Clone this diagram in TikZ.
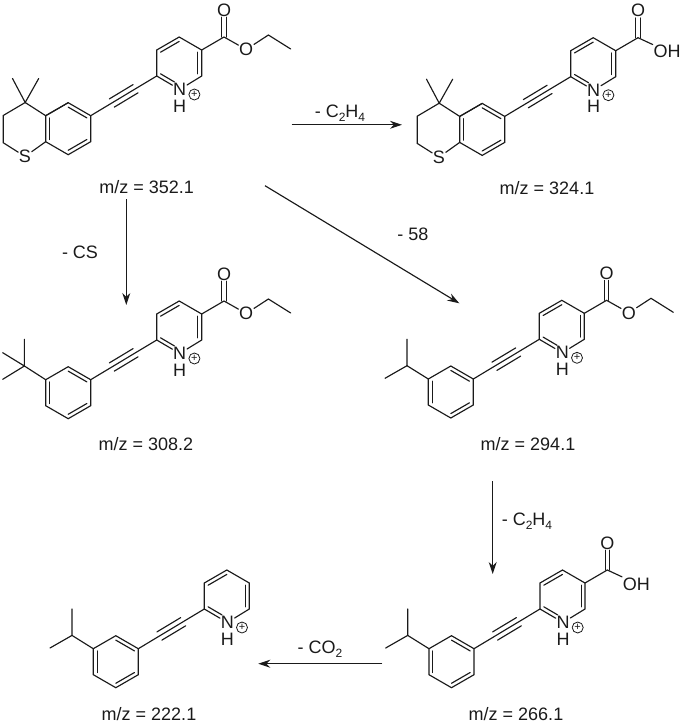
\documentclass[tikz,border=0pt]{standalone}
\usepackage{fontspec}
\setmainfont{Liberation Sans}
\usetikzlibrary{calc,arrows.meta}
\definecolor{ink}{HTML}{1A1A1A}
\tikzset{
  bond/.style={draw=ink,line width=1.15pt,line cap=round},
  rxn/.style={draw=ink,line width=1.15pt,-{Stealth[length=12pt,width=8pt]}},
  atom/.style={text=ink,font=\fontsize{18}{18}\selectfont,inner sep=0.8pt,outer sep=0pt},
  lab/.style={text=ink,font=\fontsize{18}{18}\selectfont,inner sep=0pt},
  charge/.style={draw=ink,line width=0.8pt,circle,inner sep=0pt,minimum size=11pt,text=ink,font=\fontsize{11}{11}\selectfont},
}
\newcommand{\subs}[1]{\raisebox{-0.22em}{\fontsize{12}{12}\selectfont #1}}
\newcommand{\dbond}[3]{\draw[bond] ($(#1)!.17!(#3)$) -- ($(#2)!.17!(#3)$);}
\newcommand{\pyrcore}{%
  \coordinate (C2) at (0,0);
  \coordinate (C3) at (0,-26);
  \coordinate (C4) at (22.5,-39);
  \coordinate (C5) at (45,-26);
  \coordinate (C6) at (45,0);
  \coordinate (pc) at (22.5,-13);
  \node[atom] (N) at (23,13.5) {N};
  \node[atom] (H) at (23,30) {H};
  \node[charge] (plus) at (37.7,18.5) {+};
  \draw[bond] (C2) -- (C3) -- (C4) -- (C5) -- (C6) -- (N);
  \draw[bond] (C2) -- (N);
  \dbond{C3}{C4}{pc}
  \dbond{C5}{C6}{pc}
  \draw[bond,shorten >=6pt] ($(C2)!.17!(pc)$) -- ($(N)!.17!(pc)$);
  % benzene ring
  \coordinate (A1) at (-66,39.7);
  \coordinate (A2) at (-88.5,26.7);
  \coordinate (A3) at (-111,39.7);
  \coordinate (A4) at (-111,65.7);
  \coordinate (A5) at (-88.5,78.7);
  \coordinate (A6) at (-66,65.7);
  \coordinate (bc) at (-88.5,52.7);
  \draw[bond] (A1) -- (A2) -- (A3) -- (A4) -- (A5) -- (A6) -- cycle;
  \dbond{A1}{A2}{bc}
  \dbond{A3}{A4}{bc}
  \dbond{A5}{A6}{bc}
  % alkyne
  \coordinate (T1) at ($(C2)!.32!(A1)$);
  \coordinate (T2) at ($(C2)!.68!(A1)$);
  \draw[bond] (C2) -- (A1);
  \draw[bond] ($(T1)!4.8pt!90:(T2)$) -- ($(T2)!4.8pt!-90:(T1)$);
  \draw[bond] ($(T1)!4.8pt!-90:(T2)$) -- ($(T2)!4.8pt!90:(T1)$);
}
\newcommand{\carbonyl}{%
  \coordinate (CO) at (67.3,-39);
  \node[atom] (Ok) at (67.3,-66) {O};
  \draw[bond] (C5) -- (CO);
  \draw[bond] ($(CO)+(-2.2,0)$) -- ($(Ok.south)+(-2.2,0)$);
  \draw[bond] ($(CO)+(2.2,0)$) -- ($(Ok.south)+(2.2,0)$);
}
\newcommand{\ester}{%
  \carbonyl
  \node[atom] (Oe) at (89.5,-26.5) {O};
  \coordinate (Et1) at (111.7,-41);
  \coordinate (Et2) at (134,-27);
  \draw[bond] (CO) -- (Oe) -- (Et1) -- (Et2);
}
\newcommand{\acid}{%
  \carbonyl
  \node[atom,anchor=west] (OH) at (82,-25) {OH};
  \draw[bond] (CO) -- (OH.north west);
}
\newcommand{\thio}{%
  \coordinate (Q) at (-131.5,26.5);
  \coordinate (Me1) at (-144.2,2.5);
  \coordinate (Me2) at (-118,2.5);
  \coordinate (B3) at (-153.5,39.5);
  \coordinate (B2) at (-153.5,66.7);
  \node[atom] (S) at (-131.7,80.5) {S};
  \draw[bond] (A2) -- (A3);
  \draw[bond] (A3) -- (Q) -- (B3) -- (B2) -- (S) -- (A4);
  \draw[bond] (Me1) -- (Q) -- (Me2);
}
\newcommand{\tbu}{%
  \coordinate (Q) at (-132.3,26);
  \coordinate (Me1) at (-132.3,-0.7);
  \coordinate (Me2) at (-154,12.7);
  \coordinate (Me3) at (-154,39.3);
  \draw[bond] (A3) -- (Q);
  \draw[bond] (Me1) -- (Q) (Me2) -- (Q) (Me3) -- (Q);
}
\newcommand{\ipr}{%
  \coordinate (Q) at (-132.3,26.4);
  \coordinate (Me1) at (-132.3,0);
  \coordinate (Me2) at (-154.3,39);
  \draw[bond] (A3) -- (Q);
  \draw[bond] (Me1) -- (Q) -- (Me2);
}
\begin{document}
\begin{tikzpicture}[x=1pt,y=-1pt]
\useasboundingbox (0,0) rectangle (681,724);
% molecules
\begin{scope}[shift={(156.7,76)}]
  \pyrcore \ester \thio
\end{scope}
\begin{scope}[shift={(570.7,76.7)}]
  \pyrcore \acid \thio
\end{scope}
\begin{scope}[shift={(156.7,340)}]
  \pyrcore \ester \tbu
\end{scope}
\begin{scope}[shift={(539.3,339.3)}]
  \pyrcore \ester \ipr
\end{scope}
\begin{scope}[shift={(540,609)}]
  \pyrcore \acid \ipr
\end{scope}
\begin{scope}[shift={(204.3,609)}]
  \pyrcore \ipr
\end{scope}
% m/z labels
\node[lab] (mzA) at (146.7,187.5) {m/z = 352.1};
\node[lab] (mzB) at (547,188.5) {m/z = 324.1};
\node[lab] (mzC) at (145.8,444) {m/z = 308.2};
\node[lab] (mzD) at (528,444) {m/z = 294.1};
\node[lab] (mzE) at (149,714) {m/z = 222.1};
\node[lab] (mzF) at (516,714.5) {m/z = 266.1};
% reaction labels
\node[lab] (lossA) at (340,113) {- C\subs{2}H\subs{4}};
\node[lab] (lossB) at (80,252) {- CS};
\node[lab] (lossC) at (413,234) {- 58};
\node[lab] (lossD) at (527,521) {- C\subs{2}H\subs{4}};
\node[lab] (lossE) at (320,649) {- CO\subs{2}};
% reaction arrows
\coordinate (a1s) at (291.7,124.8);
\coordinate (a1e) at (402,124.8);
\coordinate (a2s) at (126.3,199);
\coordinate (a2e) at (126.3,305);
\coordinate (a3s) at (265,185.7);
\coordinate (a3e) at (459.3,303.3);
\coordinate (a4s) at (492.7,481);
\coordinate (a4e) at (492.7,574);
\coordinate (a5s) at (382.3,663.7);
\coordinate (a5e) at (258.3,663.7);
\draw[rxn] (a1s) -- (a1e);
\draw[rxn] (a2s) -- (a2e);
\draw[rxn] (a3s) -- (a3e);
\draw[rxn] (a4s) -- (a4e);
\draw[rxn] (a5s) -- (a5e);
\end{tikzpicture}
\end{document}
